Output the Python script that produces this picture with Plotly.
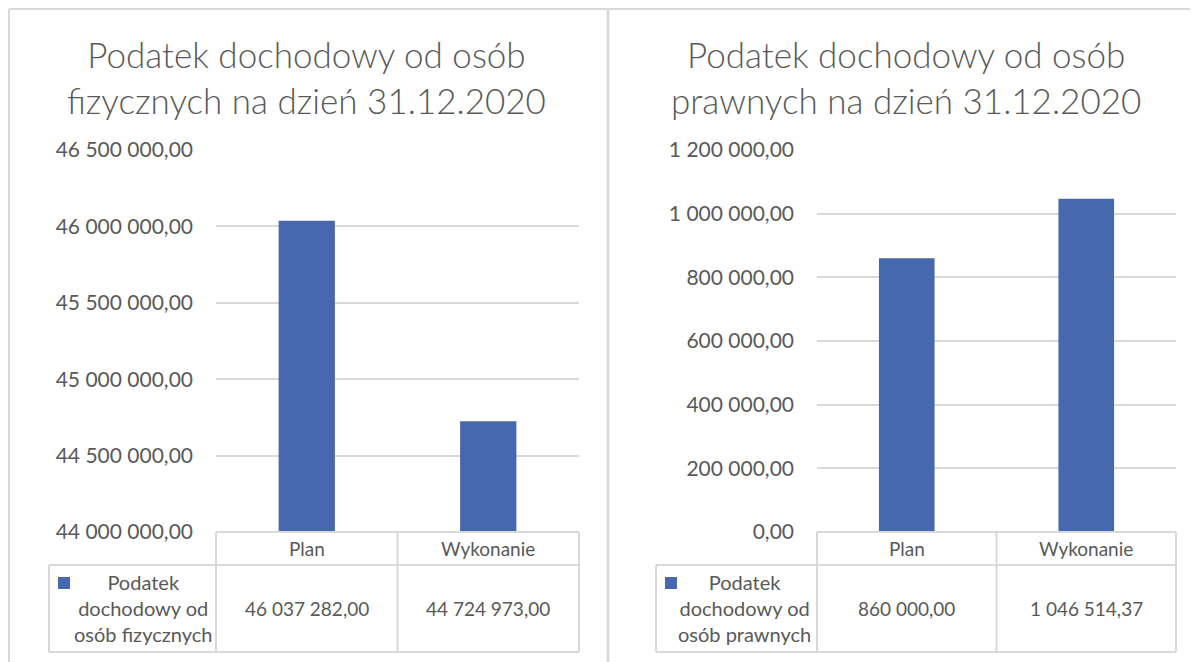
import plotly.graph_objects as go

W, H = 1198, 662
# the page body adds an 8px offset; place content so it lands where the reference has it
OFF = 8

categories = ["Plan", "Wykonanie"]

pit_title = "Podatek dochodowy od osób<br>fizycznych na dzień 31.12.2020"
pit_series = "Podatek<br>dochodowy od<br>osób fizycznych"
pit_values = [46037282.00, 44724973.00]
pit_range = [44000000, 46500000]
pit_step = 500000

cit_title = "Podatek dochodowy od osób<br>prawnych na dzień 31.12.2020"
cit_series = "Podatek<br>dochodowy od<br>osób prawnych"
cit_values = [860000.00, 1046514.37]
cit_range = [0, 1200000]
cit_step = 200000

BAR = "#4767ae"
TEXT = "#595959"
LINE = "#d9d9d9"
FONT = "Lato"


def px(x):
    return (x - OFF) / W


def py(y):
    return 1 - (y - OFF) / H


def fmt(v):
    return f"{v:,.2f}".replace(",", " ").replace(".", ",")


# pixel layout of the two panels
panels = [
    dict(xa="x", ya="y", left=216, right=579, legend_left=49, title_x=306,
         title=pit_title, series=pit_series, values=pit_values,
         rng=pit_range, step=pit_step, legend_x=143),
    dict(xa="x2", ya="y2", left=817, right=1176, legend_left=656, title_x=906,
         title=cit_title, series=cit_series, values=cit_values,
         rng=cit_range, step=cit_step, legend_x=744),
]
plot_top, plot_bottom = 150, 532
header_bottom, table_bottom = 565, 652

fig = go.Figure()
shapes = []
annotations = []

for i, p in enumerate(panels):
    sfx = "" if i == 0 else str(i + 1)
    fig.add_trace(go.Bar(
        x=categories, y=p["values"], name=p["series"].replace("<br>", " "),
        marker=dict(color=BAR, line=dict(width=0)),
        xaxis=p["xa"], yaxis=p["ya"], showlegend=False,
    ))
    fig.update_layout({
        "xaxis" + sfx: dict(domain=[px(p["left"]), px(p["right"])], range=[-0.5, 1.5],
                            showticklabels=False, showgrid=False, zeroline=False,
                            anchor=p["ya"], fixedrange=True, automargin=False),
        "yaxis" + sfx: dict(domain=[py(plot_bottom), py(plot_top)], range=p["rng"],
                            tick0=p["rng"][0], dtick=p["step"], tickformat=",.2f",
                            showgrid=True, gridcolor=LINE, gridwidth=1.5, zeroline=False,
                            showline=False, ticks="", ticklabelstandoff=22,
                            tickfont=dict(family=FONT, size=21, color=TEXT),
                            anchor=p["xa"], fixedrange=True, automargin=False),
    })

    # title
    annotations.append(dict(
        text=p["title"], x=px(p["title_x"]), y=py(77), xref="paper", yref="paper",
        xanchor="center", yanchor="middle", showarrow=False, align="center",
        font=dict(family=FONT, size=35, color=TEXT, weight=300),
    ))

    # data table lines
    L, R = px(p["left"]), px(p["right"])
    M = (L + R) / 2
    LL = px(p["legend_left"])
    for x0, x1, y0, y1 in [
        (L, R, plot_bottom, plot_bottom),
        (LL, R, header_bottom, header_bottom),
        (LL, R, table_bottom, table_bottom),
        (L, L, plot_bottom, table_bottom),
        (M, M, plot_bottom, table_bottom),
        (R, R, plot_bottom, table_bottom),
        (LL, LL, header_bottom, table_bottom),
    ]:
        shapes.append(dict(type="line", xref="paper", yref="paper",
                           x0=x0, x1=x1, y0=py(y0), y1=py(y1),
                           line=dict(color=LINE, width=2)))

    # header and value cells
    for cat, val in zip(categories, p["values"]):
        annotations.append(dict(
            text=cat, x=cat, y=py(548), xref=p["xa"], yref="paper",
            xanchor="center", yanchor="middle", showarrow=False,
            font=dict(family=FONT, size=19, color=TEXT),
        ))
        annotations.append(dict(
            text=fmt(val), x=cat, y=py(608), xref=p["xa"], yref="paper",
            xanchor="center", yanchor="middle", showarrow=False,
            font=dict(family=FONT, size=19, color=TEXT),
        ))

    # legend key + series name
    kx = p["legend_left"] + 9
    shapes.append(dict(type="rect", xref="paper", yref="paper",
                       x0=px(kx), x1=px(kx + 12), y0=py(589), y1=py(577),
                       fillcolor=BAR, line=dict(width=0)))
    annotations.append(dict(
        text=p["series"], x=px(p["legend_x"]), y=py(608), xref="paper", yref="paper",
        xanchor="center", yanchor="middle", showarrow=False, align="center",
        font=dict(family=FONT, size=20, color=TEXT),
    ))

# chart borders (outer edge kept just inside the drawable page area)
for x0, x1, y0, y1, w in [
    (9, W + OFF, 9, 9, 2),
    (9, 9, 9, H + OFF, 2),
    (608, 608, 9, H + OFF, 3),
]:
    shapes.append(dict(type="line", xref="paper", yref="paper",
                       x0=px(x0), x1=px(x1), y0=py(y0), y1=py(y1),
                       line=dict(color=LINE, width=w)))

fig.update_layout(
    width=W, height=H,
    margin=dict(l=0, r=0, t=0, b=0, autoexpand=False),
    paper_bgcolor="white", plot_bgcolor="white",
    separators=", ",
    bargap=0.69,
    shapes=shapes,
    annotations=annotations,
    font=dict(family=FONT, color=TEXT),
)

fig.write_html("out.html")
